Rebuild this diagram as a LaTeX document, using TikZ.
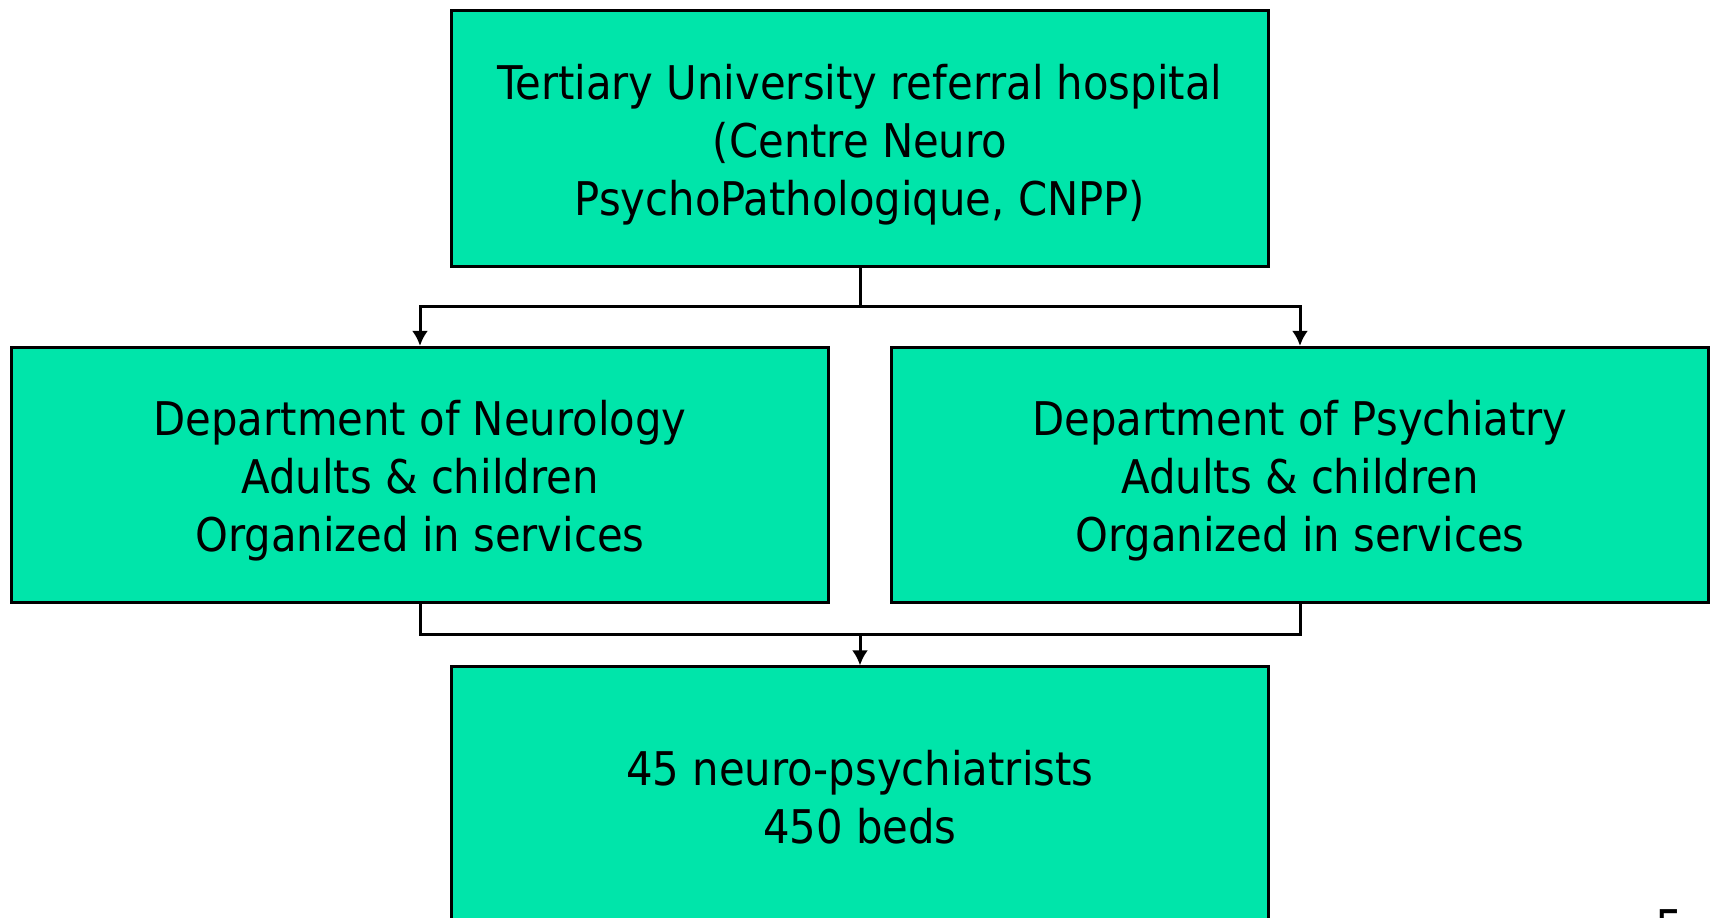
\documentclass[tikz,border=0pt]{standalone}
\usepackage{fontspec}
\setmainfont{DejaVu Sans Condensed}
\usepackage{xcolor}
\usepackage{tikz}
\usetikzlibrary{arrows.meta}
\definecolor{boxgreen}{RGB}{0,229,170}
\tikzstyle{unit} = [rectangle, minimum width=8.16cm, minimum height=2.55cm, text centered, align=center, fill=boxgreen, draw=black, line width=0.3mm, font=\fontsize{13.2}{16.5}\selectfont]
\tikzstyle{arrow} = [line width=0.3mm, -{Latex[length=1.5mm,width=1.6mm]}]
\tikzstyle{link} = [line width=0.3mm, -]
% taller first line pushes three-line texts a little lower
\newcommand{\firstline}{\rule{0pt}{13.5pt}}

\begin{document}
\begin{tikzpicture}[x=0.01cm, y=-0.01cm]
    \useasboundingbox (0, 0) rectangle (1711, 918);
    \clip (0, 0) rectangle (1711, 918);
    \node [unit] (cnpp) at (860, 138.5) {\firstline Tertiary University referral hospital\\(Centre Neuro\\PsychoPathologique, CNPP)};
    \node [unit] (neuro) at (420, 475) {\firstline Department of Neurology\\Adults \& children\\Organized in services};
    \node [unit] (psych) at (1300, 475) {\firstline Department of Psychiatry\\Adults \& children\\Organized in services};
    \node [unit, minimum height=2.6cm] (staff) at (860, 797) {45 neuro-psychiatrists\\450 beds};
    \node [anchor=north west, inner sep=0pt, font=\fontsize{14}{16}\selectfont] (page) at (1655, 909) {5};
    \coordinate (split) at (860, 306.7);
    \coordinate (merge) at (860, 634);
    \draw [link] (cnpp.south) -- (split);
    \draw [arrow] (split) -| (neuro.north);
    \draw [arrow] (split) -| (psych.north);
    \draw [link] (neuro.south) |- (merge);
    \draw [link] (psych.south) |- (merge);
    \draw [arrow] (merge) -- (staff.north);
\end{tikzpicture}
\end{document}
